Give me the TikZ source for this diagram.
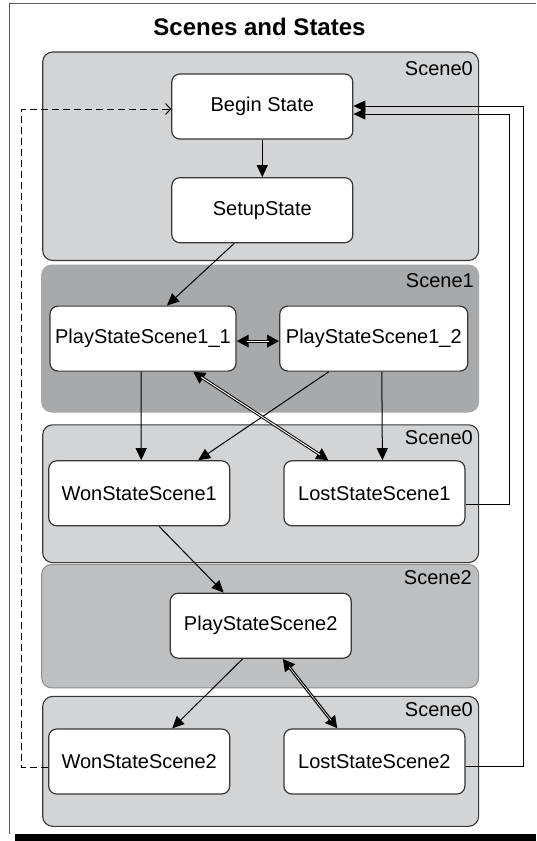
\documentclass[tikz,border=0pt]{standalone}
\usepackage{fontspec}
\setmainfont{Liberation Sans}
\usepackage{tikz}
\usetikzlibrary{arrows.meta}

\definecolor{scenelight}{RGB}{211,212,214}
\definecolor{scenedark}{RGB}{168,169,171}
\definecolor{scenemid}{RGB}{190,191,193}
\definecolor{edgegray}{RGB}{55,55,55}

\begin{document}
\begin{tikzpicture}[x=1pt,y=-1pt,
  scenezero/.style={draw=edgegray, line width=1.1pt, fill=scenelight, rounded corners=10pt},
  sceneone/.style={draw=scenedark, line width=1pt, fill=scenedark, rounded corners=10pt},
  scenetwo/.style={draw=black!45, line width=1pt, fill=scenemid, rounded corners=10pt},
  scenelabel/.style={anchor=north east, inner sep=0pt, font=\fontsize{20}{24}\selectfont},
  state/.style={draw=edgegray, line width=1.2pt, fill=white, rounded corners=8pt,
    minimum width=181pt, minimum height=65pt, inner sep=0pt, font=\fontsize{20}{24}\selectfont},
  arr/.style={line width=1pt, -{Triangle[length=12pt,width=11pt]}},
  darr/.style={line width=3pt,
    {Triangle[length=12pt,width=12pt]}-{Triangle[length=12pt,width=12pt]},
    postaction={draw, white, line width=#1, arrows=-, shorten <=10pt, shorten >=10pt}},
  darr/.default=1pt,
]

\useasboundingbox (0,0) rectangle (536,841);

% Рамка и тень
\draw[line width=1.5pt, draw=black!65] (536,3.5) -- (9.5,3.5) -- (9.5,834);
\fill (15,834) rectangle (536,841);

% Заголовок
\node[font=\fontsize{24}{28}\selectfont\bfseries] (title) at (259.5,26.7) {Scenes and States};

% Сцены
\draw[scenezero] (42.7,52) rectangle (478.6,260.5);
\draw[sceneone]  (41.7,265) rectangle (478.6,412);
\draw[scenezero] (42.7,424.8) rectangle (478.6,562.6);
\draw[scenetwo]  (41.7,564.4) rectangle (478.6,687.8);
\draw[scenezero] (42.7,696.4) rectangle (478.6,826.3);

\node[scenelabel] (sA) at (473,61.5) {Scene0};
\node[scenelabel] (sB) at (474,273) {Scene1};
\node[scenelabel] (sC) at (473,430.5) {Scene0};
\node[scenelabel] (sD) at (472,570.5) {Scene2};
\node[scenelabel] (sE) at (473,702) {Scene0};

% Состояния
\node[state] (begin)  at (262.3,106.5) {Begin State};
\node[state] (setup)  at (262.3,210.2) {SetupState};
\node[state, minimum width=186pt] (play11) at (143,338.6) {PlayStateScene1\_1};
\node[state, minimum width=188pt] (play12) at (373.8,338.6) {PlayStateScene1\_2};
\node[state] (won1)   at (139.2,493.3) {WonStateScene1};
\node[state] (lost1)  at (374.4,493.3) {LostStateScene1};
\node[state] (play2)  at (260.7,625.7) {PlayStateScene2};
\node[state] (won2)   at (139.2,761.5) {WonStateScene2};
\node[state] (lost2)  at (374.4,761.5) {LostStateScene2};

% Переходы
\draw[arr] (begin) -- (setup);
\draw[arr] ([xshift=-28pt]setup.south) -- ([xshift=24pt]play11.north);
\draw[darr] ([yshift=-2.5pt]play11.east) -- ([yshift=-2.5pt]play12.west);
\draw[arr] ([xshift=-2pt]play11.south) -- ([xshift=2pt]won1.north);
\draw[arr] ([xshift=-45pt]play12.south) -- ([xshift=59pt]won1.north);
\draw[arr] ([xshift=8pt]play12.south) -- ([xshift=8pt]lost1.north);
\draw[darr] ([xshift=50pt]play11.south) -- ([xshift=-46pt]lost1.north);
\draw[arr] ([xshift=20pt]won1.south) -- ([xshift=-37pt]play2.north);
\draw[arr] ([xshift=-18pt]play2.south) -- ([xshift=33pt]won2.north);
\draw[darr=0.6pt] ([xshift=22pt]play2.south) -- ([xshift=-37pt]lost2.north);

% Возвраты в начало
\draw[arr] ([yshift=-11pt]lost1.east) -- ++(44,0) |- ([yshift=-7.5pt]begin.east);
\draw[arr] ([yshift=-4.5pt]lost2.east) -- ++(58,0) |- ([yshift=0.5pt]begin.east);
\draw[line width=1pt, dash pattern=on 7pt off 4pt, -{Straight Barb[length=5pt,width=11pt]}]
  ([yshift=-5.5pt]won2.west) -- ++(-26.5,0) |- ([yshift=-2.5pt]begin.west);

\end{tikzpicture}
\end{document}
